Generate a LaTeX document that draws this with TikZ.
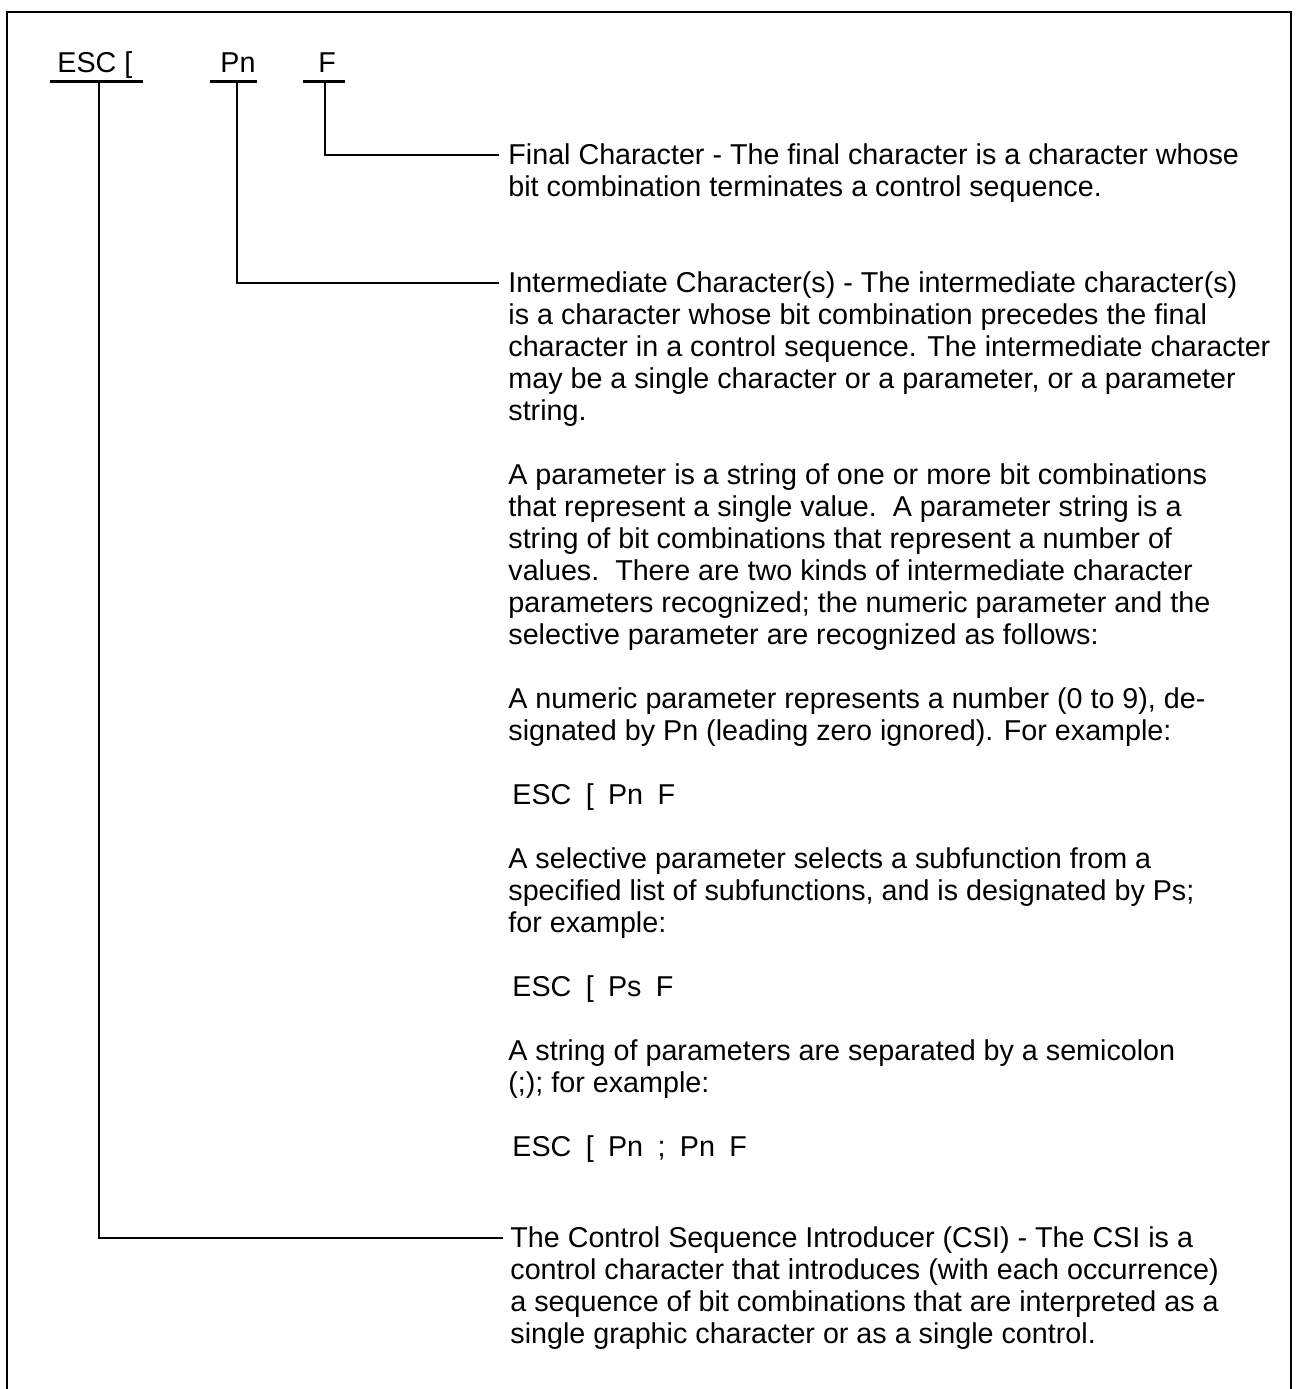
\documentclass[tikz,border=0pt]{standalone}
\usepackage{fontspec}
\setmainfont{Liberation Sans}
\tikzset{
  lbl/.style = {anchor=base west, inner sep=0pt, font=\fontsize{14.35}{16}\selectfont},
  desc/.style = {anchor=base west, align=left, inner sep=0pt, font=\fontsize{14.35}{16}\selectfont},
  bar/.style = {line width=1.5pt},
  lead/.style = {line width=1pt},
}
\begin{document}
\begin{tikzpicture}[x=0.5pt, y=-0.5pt]
  \useasboundingbox (0,0) rectangle (1297,1389);
  % frame, open at the bottom
  \draw[lead] (7,1389) -- (7,12) -- (1291,12) -- (1291,1389);
  % the sequence
  \node[lbl] (esc) at (57,72) {ESC [};
  \node[lbl] (pn) at (220,72) {Pn};
  \node[lbl] (fc) at (318,72) {F};
  \draw[bar] (50,81.5) -- (143,81.5);
  \draw[bar] (210,81.5) -- (257,81.5);
  \draw[bar] (303,81.5) -- (345,81.5);
  \coordinate (esc-t) at (99,81.5);
  \coordinate (pn-t) at (237,81.5);
  \coordinate (fc-t) at (325,81.5);
  % descriptions (placed by the baseline of their last line)
  \node[desc] (final) at (508,196) {Final Character - The final character is a character whose\\
    bit combination terminates a control sequence.};
  \node[desc] (inter) at (508,420) {Intermediate Character(s) - The intermediate character(s)\\
    is a character whose bit combination precedes the final\\
    character in a control sequence. The intermediate character\\
    may be a single character or a parameter, or a parameter\\
    string.};
  \node[desc] (par) at (508,644) {A parameter is a string of one or more bit combinations\\
    that represent a single value.\ \ A parameter string is a\\
    string of bit combinations that represent a number of\\
    values.\ \ There are two kinds of intermediate character\\
    parameters recognized; the numeric parameter and the\\
    selective parameter are recognized as follows:};
  \node[desc] (num) at (508,740) {A numeric parameter represents a number (0 to 9), de-\\
    signated by Pn (leading zero ignored). For example:};
  \node[desc] (ex1) at (512,804) {ESC\enspace[\enspace Pn\enspace F};
  \node[desc] (sel) at (508,932) {A selective parameter selects a subfunction from a\\
    specified list of subfunctions, and is designated by Ps;\\
    for example:};
  \node[desc] (ex2) at (512,996) {ESC\enspace[\enspace Ps\enspace F};
  \node[desc] (str) at (508,1092) {A string of parameters are separated by a semicolon\\
    (;); for example:};
  \node[desc] (ex3) at (512,1156) {ESC\enspace[\enspace Pn\enspace;\enspace Pn\enspace F};
  \node[desc] (csi) at (510,1343) {The Control Sequence Introducer (CSI) - The CSI is a\\
    control character that introduces (with each occurrence)\\
    a sequence of bit combinations that are interpreted as a\\
    single graphic character or as a single control.};
  % leaders
  \coordinate (final-in) at (499,155);
  \coordinate (inter-in) at (499,283);
  \coordinate (csi-in) at (503,1238);
  \draw[lead] (fc-t) |- (final-in);
  \draw[lead] (pn-t) |- (inter-in);
  \draw[lead] (esc-t) |- (csi-in);
\end{tikzpicture}
\end{document}
